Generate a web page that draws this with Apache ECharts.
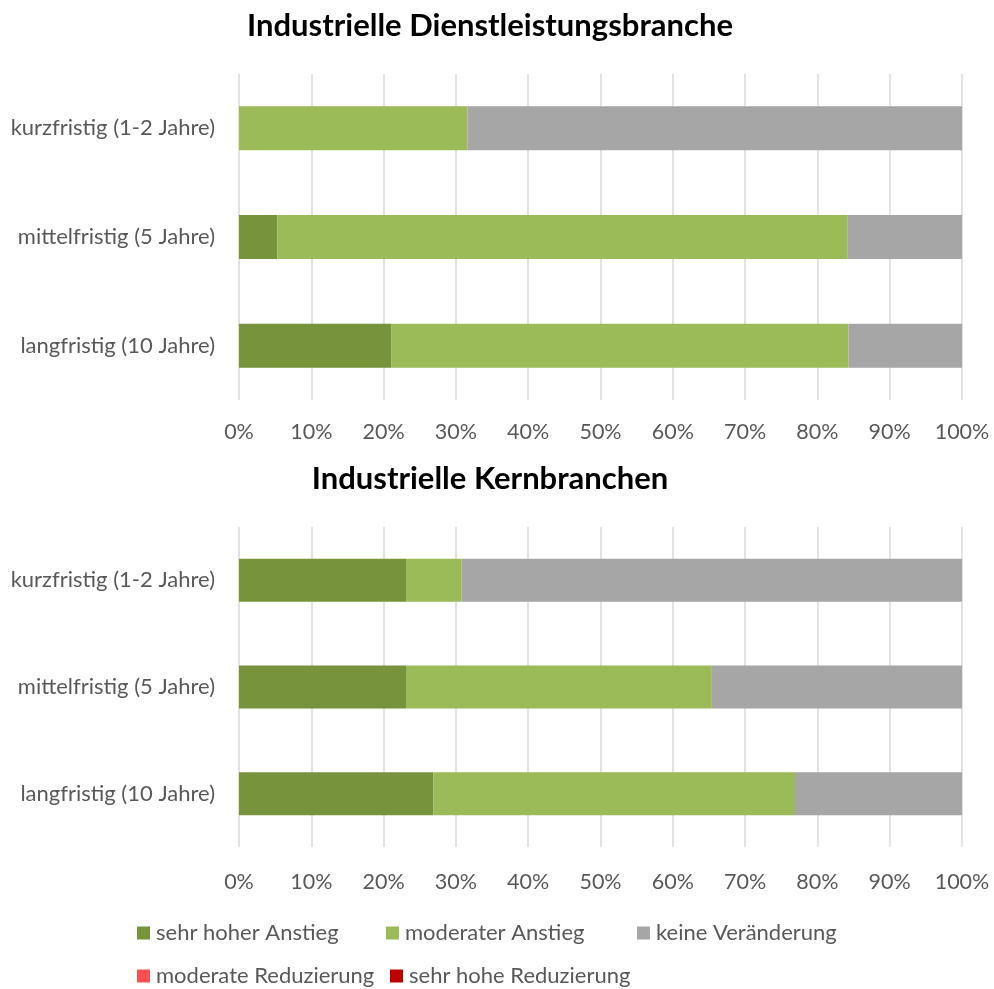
<!DOCTYPE html>
<html>
<head>
<meta charset="utf-8">
<script src="https://cdn.jsdelivr.net/npm/echarts@6/dist/echarts.min.js"></script>
<style>html,body{margin:0;padding:0;background:#fff}#c{width:994px;height:989px}</style>
</head>
<body>
<div id="c"></div>
<script>
const categories = ['kurzfristig (1-2 Jahre)', 'mittelfristig (5 Jahre)', 'langfristig (10 Jahre)'];
const seriesNames = ['sehr hoher Anstieg', 'moderater Anstieg', 'keine Veränderung', 'moderate Reduzierung', 'sehr hohe Reduzierung'];
const seriesColors = ['#77933C', '#9BBB59', '#A6A6A6', '#FF5050', '#C00000'];
const titles = ['Industrielle Dienstleistungsbranche', 'Industrielle Kernbranchen'];
const xTicks = [0, 10, 20, 30, 40, 50, 60, 70, 80, 90, 100];

// Industrielle Dienstleistungsbranche (percent)
const dienstSehrHoch = [0, 5.3, 21.1];
const dienstModerat = [31.6, 78.9, 63.2];
const dienstKeine = [68.4, 15.8, 15.7];
const dienstModRed = [0, 0, 0];
const dienstSehrRed = [0, 0, 0];

// Industrielle Kernbranchen (percent)
const kernSehrHoch = [23.1, 23.1, 26.9];
const kernModerat = [7.7, 42.3, 50.0];
const kernKeine = [69.2, 34.6, 23.1];
const kernModRed = [0, 0, 0];
const kernSehrRed = [0, 0, 0];

const FONT = 'Lato, "Open Sans", sans-serif';
const panels = [
  [dienstSehrHoch, dienstModerat, dienstKeine, dienstModRed, dienstSehrRed],
  [kernSehrHoch, kernModerat, kernKeine, kernModRed, kernSehrRed]
];
const grids = [
  { left: 239, right: 32, top: 74, height: 326 },
  { left: 239, right: 32, top: 527, height: 320 }
];
const barW = [44, 43];
const labelMargin = [21, 24];

const xAxes = grids.map((g, i) => ({
  type: 'value', gridIndex: i, min: xTicks[0], max: xTicks[xTicks.length - 1],
  interval: xTicks[1] - xTicks[0],
  axisLine: { show: false }, axisTick: { show: false },
  axisLabel: { formatter: '{value}%', color: '#595959', fontSize: 21.5, fontFamily: FONT, margin: labelMargin[i] },
  splitLine: { show: true, lineStyle: { color: '#D9D9D9', width: 1.5 } }
}));
const yAxes = grids.map((g, i) => ({
  type: 'category', gridIndex: i, data: categories, inverse: true,
  axisLine: { show: false }, axisTick: { show: false },
  axisLabel: { color: '#595959', fontSize: 22, fontFamily: FONT, margin: 24 }
}));
const series = [];
panels.forEach((vals, p) => {
  vals.forEach((arr, s) => {
    series.push({
      type: 'bar', name: seriesNames[s], stack: 'p' + p,
      xAxisIndex: p, yAxisIndex: p, data: arr, barWidth: barW[p],
      itemStyle: { color: seriesColors[s] }, emphasis: { disabled: true }
    });
  });
});
const legendPos = [
  { left: 137, top: 922 }, { left: 386, top: 922 }, { left: 637, top: 922 },
  { left: 137, top: 965 }, { left: 390, top: 965 }
];
const legends = seriesNames.map((n, i) => ({
  data: [n], left: legendPos[i].left, top: legendPos[i].top,
  icon: 'rect', itemWidth: 13, itemHeight: 13, itemGap: 0,
  textStyle: { color: '#595959', fontSize: 22, fontFamily: FONT, padding: [0, 0, 0, 1] },
  selectedMode: false, padding: 0
}));
const chart = echarts.init(document.getElementById('c'), null, { renderer: 'canvas' });
chart.setOption({
  animation: false,
  title: [
    { text: titles[0], left: 490, textAlign: 'center', top: 10, padding: 0, textStyle: { fontSize: 31, fontWeight: 'bold', color: '#000', fontFamily: FONT } },
    { text: titles[1], left: 490, textAlign: 'center', top: 463, padding: 0, textStyle: { fontSize: 31, fontWeight: 'bold', color: '#000', fontFamily: FONT } }
  ],
  legend: legends,
  grid: grids,
  xAxis: xAxes,
  yAxis: yAxes,
  series: series
});
</script>
</body>
</html>
